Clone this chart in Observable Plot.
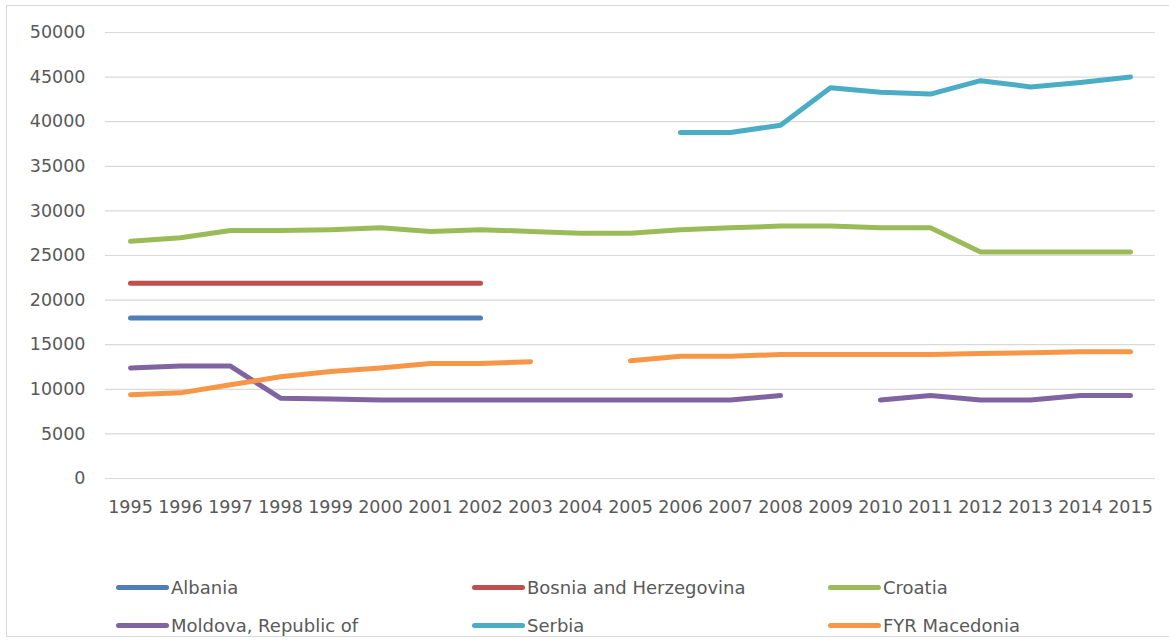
<!DOCTYPE html>
<html>
<head>
<meta charset="utf-8">
<script src="https://cdn.jsdelivr.net/npm/d3@7"></script>
<script src="https://cdn.jsdelivr.net/npm/@observablehq/plot@0.6"></script>
<style>
  html, body { margin: 0; padding: 0; background: #fff; }
  #wrap { position: relative; width: 1169px; height: 641px; overflow: hidden; font-family: "DejaVu Sans", sans-serif; }
  #frame { position: absolute; left: 6px; top: 5px; width: 1175px; height: 632px; border: 1px solid #d9d9d9; box-sizing: border-box; }
  #chart { position: absolute; left: 0; top: 0; }
  .item { position: absolute; display: flex; align-items: center; font-size: 18px; color: #595959; white-space: nowrap; }
  .sw { width: 53px; height: 5px; border-radius: 3px; margin-right: 2px; }
</style>
</head>
<body>
<div id="wrap">
  <div id="frame"></div>
  <div id="chart"></div>
  <div id="legend"></div>
</div>
<script>
const years = [1995,1996,1997,1998,1999,2000,2001,2002,2003,2004,2005,2006,2007,2008,2009,2010,2011,2012,2013,2014,2015];
const countries = ["Albania","Bosnia and Herzegovina","Croatia","Moldova, Republic of","Serbia","FYR Macedonia"];
const colors = ["#4f7fb8","#c0504d","#9bbb59","#8064a2","#4bacc6","#f79646"];
const albania   = [18000,18000,18000,18000,18000,18000,18000,18000,null,null,null,null,null,null,null,null,null,null,null,null,null];
const bosnia    = [21900,21900,21900,21900,21900,21900,21900,21900,null,null,null,null,null,null,null,null,null,null,null,null,null];
const croatia   = [26600,27000,27800,27800,27900,28100,27700,27900,27700,27500,27500,27900,28100,28300,28300,28100,28100,25400,25400,25400,25400];
const moldova   = [12400,12600,12600,9000,8900,8800,8800,8800,8800,8800,8800,8800,8800,9300,null,8800,9300,8800,8800,9300,9300];
const serbia    = [null,null,null,null,null,null,null,null,null,null,null,38800,38800,39600,43800,43300,43100,44600,43900,44400,45000];
const macedonia = [9400,9600,10500,11400,12000,12400,12900,12900,13100,null,13200,13700,13700,13900,13900,13900,13900,14000,14100,14200,14200];
const yTicks = [0,5000,10000,15000,20000,25000,30000,35000,40000,45000,50000];

const seriesList = [albania, bosnia, croatia, moldova, serbia, macedonia];
const rows = [];
seriesList.forEach((vals, i) => {
  vals.forEach((v, j) => rows.push({country: countries[i], year: String(years[j]), value: v == null ? NaN : v}));
});

const H = 520;
const plot = Plot.plot({
  width: 1169,
  height: H,
  marginTop: 32,
  marginBottom: H - 478,
  marginLeft: 105,
  marginRight: 14,
  style: {fontFamily: "DejaVu Sans, sans-serif", fontSize: "17.5px", color: "#595959", background: "transparent"},
  x: {type: "point", domain: years.map(String), padding: 0.5, label: null},
  y: {domain: [0, 50000], ticks: yTicks, label: null},
  color: {domain: countries, range: colors},
  marks: [
    Plot.gridY(yTicks, {stroke: "#d9d9d9", strokeOpacity: 1, strokeWidth: 1.2}),
    Plot.axisY(yTicks, {tickSize: 0, tickPadding: 20, tickFormat: d => String(d), label: null}),
    Plot.axisX({tickSize: 0, tickPadding: 22, label: null}),
    Plot.line(rows, {x: "year", y: "value", z: "country", stroke: "country", strokeWidth: 5, strokeLinecap: "round", strokeLinejoin: "round"})
  ]
});
document.getElementById("chart").appendChild(plot);

const legend = document.getElementById("legend");
countries.forEach((c, i) => {
  const col = i % 3, row = Math.floor(i / 3);
  const el = document.createElement("div");
  el.className = "item";
  el.style.left = (116 + col * 356) + "px";
  el.style.top = (row === 0 ? 575 : 613) + "px";
  el.style.height = "24px";
  const sw = document.createElement("div");
  sw.className = "sw";
  sw.style.background = colors[i];
  const t = document.createElement("span");
  t.textContent = c;
  el.appendChild(sw);
  el.appendChild(t);
  legend.appendChild(el);
});
</script>
</body>
</html>
